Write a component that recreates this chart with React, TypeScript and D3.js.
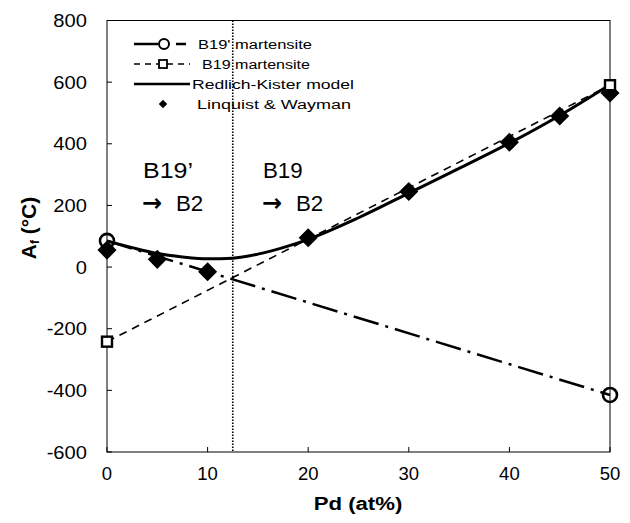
import React from "react";
import * as d3 from "d3";

const xTicks = [0, 10, 20, 30, 40, 50];
const yTicks = [-600, -400, -200, 0, 200, 400, 600, 800];

const b19pX = [0, 50];
const b19pY = [85, -415];
const b19X = [0, 50];
const b19Y = [-242, 590];
const rkX = [0, 2.5, 5, 7.5, 10, 12.5, 15, 17.5, 20, 25, 30, 35, 40, 45, 50];
const rkY = [85, 63, 44, 33, 27, 29, 42, 63, 90, 160, 240, 320, 402, 492, 592];
const lwX = [0, 5, 10, 20, 30, 40, 45, 50];
const lwY = [55, 25, -15, 95, 245, 405, 490, 565];
const boundaryX = 12.5;
const legendLabels = ["B19' martensite", "B19 martensite", "Redlich-Kister model", "Linquist & Wayman"];

const W = 630, H = 523;
const L = 107, R = 610, T = 20.5, B = 452;

export default function App() {
  const x = d3.scaleLinear().domain([0, 50]).range([L, R]);
  const y = d3.scaleLinear().domain([-600, 800]).range([B, T]);
  const line = d3.line<[number, number]>().x(d => x(d[0])).y(d => y(d[1]));
  const curve = d3.line<[number, number]>().x(d => x(d[0])).y(d => y(d[1])).curve(d3.curveMonotoneX);
  const zip = (a: number[], b: number[]) => a.map((v, i) => [v, b[i]] as [number, number]);
  const font = "Arial, 'Liberation Sans', sans-serif";
  const legendRows = [44, 64, 84, 104];
  const legendX = [198, 202, 192, 197];
  const legendW = [114, 108, 162, 154];
  const dia = (cx: number, cy: number, s: number, key: string) => (
    <rect key={key} x={-s / 2} y={-s / 2} width={s} height={s} fill="#000"
      transform={`translate(${cx},${cy}) rotate(45)`} />
  );
  return (
    <svg width={W} height={H} style={{ position: "absolute", left: 0, top: 0, background: "#fff" }} fontFamily={font}>
      <rect x={0} y={0} width={W} height={H} fill="#fff" />
      {/* frame */}
      <rect x={L} y={T} width={R - L} height={B - T} fill="none" stroke="#000" strokeWidth={1} />
      {/* ticks */}
      {xTicks.map(t => (
        <g key={"x" + t}>
          <line x1={x(t)} x2={x(t)} y1={B} y2={B - 5} stroke="#000" />
          <text x={x(t)} y={480} fontSize={18.5} textAnchor="middle">{t}</text>
        </g>
      ))}
      {yTicks.map(t => (
        <g key={"y" + t}>
          <line x1={L} x2={L + 5} y1={y(t)} y2={y(t)} stroke="#000" />
          <text transform={`translate(87,${y(t) + 6.5}) scale(1.12,1)`} fontSize={18} textAnchor="end">{t}</text>
        </g>
      ))}
      {/* boundary */}
      <line x1={x(boundaryX)} x2={x(boundaryX)} y1={T} y2={B} stroke="#000" strokeWidth={1.6} strokeDasharray="1.5,1.5" />
      {/* B19 dashed */}
      <path d={line(zip(b19X, b19Y)) || ""} fill="none" stroke="#000" strokeWidth={1.6} strokeDasharray="8,6" />
      {/* B19' dash-dot */}
      <path d={line(zip(b19pX, b19pY)) || ""} fill="none" stroke="#000" strokeWidth={2.5} strokeDasharray="26,7,3,7" />
      {/* RK curve */}
      <path d={curve(zip(rkX, rkY)) || ""} fill="none" stroke="#000" strokeWidth={3} />
      {/* diamonds */}
      {lwX.map((v, i) => dia(x(v), y(lwY[i]), 13.5, "d" + i))}
      {/* markers */}
      {b19X.map((v, i) => (
        <rect key={"s" + i} x={x(v) - 5} y={y(b19Y[i]) - 5} width={10} height={10} fill="#fff" stroke="#000" strokeWidth={2.4} />
      ))}
      {b19pX.map((v, i) => (
        <circle key={"c" + i} cx={x(v)} cy={y(b19pY[i])} r={7} fill="none" stroke="#000" strokeWidth={2.6} />
      ))}
      {/* annotations */}
      <text transform="translate(143,178) scale(1.12,1)" fontSize={22.3}>B19’</text>
      <text x={142} y={211} fontSize={24} fontWeight="bold" fontFamily="'DejaVu Sans', sans-serif">→</text>
      <text x={176} y={211} fontSize={22.3}>B2</text>
      <text x={263} y={178} fontSize={22.3}>B19</text>
      <text x={262} y={211} fontSize={24} fontWeight="bold" fontFamily="'DejaVu Sans', sans-serif">→</text>
      <text x={296} y={211} fontSize={22.3}>B2</text>
      {/* legend */}
      <g>
        <line x1={134} x2={158} y1={legendRows[0]} y2={legendRows[0]} stroke="#000" strokeWidth={2.5} />
        <line x1={176} x2={186} y1={legendRows[0]} y2={legendRows[0]} stroke="#000" strokeWidth={2.5} />
        <circle cx={164} cy={legendRows[0]} r={5} fill="#fff" stroke="#000" strokeWidth={2} />

        <line x1={134} x2={190} y1={legendRows[1]} y2={legendRows[1]} stroke="#000" strokeWidth={1.5} strokeDasharray="6,5" />
        <rect x={159} y={legendRows[1] - 4} width={8} height={8} fill="#fff" stroke="#000" strokeWidth={1.8} />

        <line x1={134} x2={190} y1={legendRows[2]} y2={legendRows[2]} stroke="#000" strokeWidth={2.5} />

        {dia(163, legendRows[3], 6, "ld")}
        {legendLabels.map((lab, i) => (
          <text key={"lt" + i} x={legendX[i]} y={legendRows[i] + 4.5} fontSize={12.5}
            textLength={legendW[i]} lengthAdjust="spacingAndGlyphs">{lab}</text>
        ))}
      </g>
      {/* axis titles */}
      <text transform="translate(358,510) scale(1.2,1)" fontSize={18.5} fontWeight="bold" textAnchor="middle">Pd (at%)</text>
      <text transform={`translate(36,228) rotate(-90)`} fontSize={21} fontWeight="bold" textAnchor="middle">
        A<tspan fontSize={12} dy={3}>f</tspan><tspan dy={-3}> (°C)</tspan>
      </text>
    </svg>
  );
}
